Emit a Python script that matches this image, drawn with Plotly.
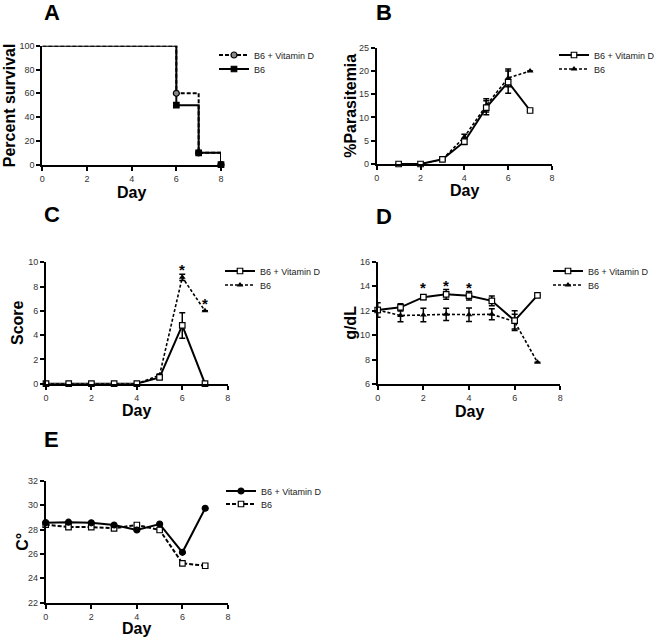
import plotly.graph_objects as go

W, H = 662, 642
def px(x): return x / W
def py(y): return 1 - y / H

# ---------------- data ----------------
A_days = [0, 6, 7, 8]
A_vd = [100, 60, 10, 0]
A_b6 = [100, 50, 10, 0]

B_days = [1, 2, 3, 4, 5, 6, 7]
B_vd = [0, 0, 1.0, 4.8, 12.1, 17.6, 11.5]
B_vd_err = [0, 0, 0.2, 0.6, 1.5, 2.4, 0]
B_b6 = [0, 0, 1.0, 5.8, 12.6, 18.5, 20.0]
B_b6_err = [0, 0, 0.2, 0.6, 1.4, 1.9, 0]

C_days = [0, 1, 2, 3, 4, 5, 6, 7]
C_vd = [0, 0, 0, 0, 0, 0.52, 4.8, 0]
C_vd_err = [0, 0, 0, 0, 0, 0.15, 1.05, 0]
C_b6 = [0, 0, 0, 0, 0, 0.7, 8.76, 6.0]
C_b6_err = [0, 0, 0, 0, 0, 0.1, 0.25, 0]
C_star_days = [6, 7]
C_star_y = [9.65, 6.85]

D_days = [0, 1, 2, 3, 4, 5, 6, 7]
D_vd = [12.05, 12.27, 13.1, 13.33, 13.22, 12.8, 11.18, 13.25]
D_vd_err = [0.2, 0.3, 0.2, 0.4, 0.35, 0.4, 0.8, 0]
D_b6 = [12.05, 11.6, 11.64, 11.7, 11.67, 11.7, 11.1, 7.77]
D_b6_err = [0.6, 0.5, 0.55, 0.5, 0.55, 0.45, 0.6, 0]
D_star_days = [2, 3, 4]
D_star_y = [14.1, 14.3, 14.15]

E_days = [0, 1, 2, 3, 4, 5, 6, 7]
E_vd = [28.56, 28.6, 28.55, 28.37, 27.96, 28.45, 26.13, 29.74]
E_b6 = [28.4, 28.2, 28.2, 28.1, 28.37, 27.96, 25.23, 25.03]

x_ticks = [0, 2, 4, 6, 8]
name_vd = "B6 + Vitamin D"
name_b6 = "B6"

FONT = "Liberation Sans, Arial, sans-serif"
DASH = "4px,2px"
DOT = "3px,2px"

fig = go.Figure()

# panel geometry in window pixels: (x0, x1, ytop, ybottom, yrange, dtick)
panels = {
    "A": (42.3, 221.0, 45.7, 164.7, [0, 100], 20),
    "B": (376.7, 552.0, 47.7, 164.0, [0, 25], 5),
    "C": (46.0, 227.7, 262.3, 383.7, [0, 10], 2),
    "D": (377.7, 560.3, 261.7, 384.0, [6, 16], 2),
    "E": (45.7, 228.0, 480.7, 602.7, [22, 32], 2),
}
axis_ids = {"A": "", "B": "2", "C": "3", "D": "4", "E": "5"}

layout = dict(
    width=W, height=H, margin=dict(l=0, r=0, t=0, b=0, autoexpand=False),
    paper_bgcolor="white", plot_bgcolor="white",
    font=dict(family=FONT, color="#222", size=9),
    showlegend=True,
)
for k, (x0, x1, yt, yb, yr, dt) in panels.items():
    i = axis_ids[k]
    common = dict(showgrid=False, zeroline=False, showline=True, linecolor="black",
                  linewidth=2, ticks="outside", ticklen=4, tickwidth=1.5,
                  tickcolor="black", tickfont=dict(size=9, color="#333", family=FONT),
                  fixedrange=True)
    layout["xaxis" + i] = dict(domain=[px(x0), px(x1)], range=[0, 8],
                               tickvals=x_ticks, anchor="y" + i, **common)
    layout["yaxis" + i] = dict(domain=[py(yb), py(yt)], range=yr, dtick=dt,
                               tick0=yr[0], anchor="x" + i, **common)

def add(xs, ys, name, axis, legend, symbol, mcolor, dash, err=None, msize=5.5,
        mline=1.2, shape="linear", mode="lines+markers", showlegend=True, lw=2):
    i = axis_ids[axis]
    tr = go.Scatter(
        x=xs, y=ys, name=name, mode=mode, showlegend=showlegend,
        xaxis="x" + i, yaxis="y" + i, legend=legend, cliponaxis=False,
        line=dict(color="black", width=lw, dash=dash, shape=shape),
        marker=dict(symbol=symbol, size=msize, color=mcolor,
                    line=dict(color="black", width=mline)),
    )
    if err is not None:
        tr.error_y = dict(type="data", array=err, visible=True, color="black",
                          thickness=1.5, width=3)
    fig.add_trace(tr)

# Panel A (step survival curves): lines, drop-point markers, legend entries
add(A_days, A_vd, name_vd, "A", "legend", "circle", "#888", DASH, shape="hv",
    mode="lines", showlegend=False)
add(A_days, A_b6, name_b6, "A", "legend2", "square", "black", "solid", shape="hv",
    mode="lines", showlegend=False)
add(A_days[1:], A_vd[1:], name_vd, "A", "legend", "circle", "#888", DASH,
    mode="markers", showlegend=False, msize=6)
add(A_days[1:], A_b6[1:], name_b6, "A", "legend2", "square", "black", "solid",
    mode="markers", showlegend=False, msize=5.5)
add([None], [None], name_vd, "A", "legend", "circle", "#888", DASH, msize=6)
add([None], [None], name_b6, "A", "legend2", "square", "black", "solid", msize=5.5)
# Panel B
add(B_days, B_b6, name_b6, "B", "legend4", "triangle-up", "black", DOT, err=B_b6_err, msize=6, mline=0, lw=1.6)
add(B_days, B_vd, name_vd, "B", "legend3", "square", "white", "solid", err=B_vd_err)
# Panel C
add(C_days, C_b6, name_b6, "C", "legend6", "triangle-up", "black", DOT, err=C_b6_err, msize=6, mline=0, lw=1.6)
add(C_days, C_vd, name_vd, "C", "legend5", "square", "white", "solid", err=C_vd_err)
# Panel D
add(D_days, D_b6, name_b6, "D", "legend8", "triangle-up", "black", DOT, err=D_b6_err, msize=6, mline=0, lw=1.6)
add(D_days, D_vd, name_vd, "D", "legend7", "square", "white", "solid", err=D_vd_err)
# Panel E
add(E_days, E_b6, name_b6, "E", "legend10", "square", "white", DASH)
add(E_days, E_vd, name_vd, "E", "legend9", "circle", "black", "solid", msize=6)

# legends, one per entry: (id, text-left-x, row-center-y) in window pixels
leg_pos = {
    "legend": (254, 55), "legend2": (254, 69),
    "legend3": (594, 55), "legend4": (594, 69),
    "legend5": (260, 271), "legend6": (260, 285),
    "legend7": (588, 271), "legend8": (588, 285),
    "legend9": (261, 491), "legend10": (261, 504),
}
for lid, (lx, ly) in leg_pos.items():
    layout[lid] = dict(x=px(lx - 40), y=py(ly), xanchor="left", yanchor="middle",
                       bgcolor="rgba(0,0,0,0)", borderwidth=0, itemwidth=30,
                       font=dict(size=9, color="#222", family=FONT),
                       itemclick=False, itemdoubleclick=False)

fig.update_layout(**layout)

ann = []
# panel letters
for k, (lx, ly) in {"A": (42, -2), "B": (374, -2), "C": (42, 200), "D": (374, 202), "E": (42, 425)}.items():
    ann.append(dict(text="<b>%s</b>" % k, x=px(lx), y=py(ly), xref="paper", yref="paper",
                    xanchor="left", yanchor="top", showarrow=False,
                    font=dict(size=22, color="black", family=FONT)))
# y titles
ytitles = {"A": ("Percent survival", 9), "B": ("%Parasitemia", 351), "C": ("Score", 17),
           "D": ("g/dL", 351), "E": ("C°", 23)}
for k, (t, cx) in ytitles.items():
    x0, x1, yt, yb, yr, dt = panels[k]
    ann.append(dict(text="<b>%s</b>" % t, x=px(cx), y=py((yt + yb) / 2), xref="paper", yref="paper",
                    xanchor="center", yanchor="middle", textangle=-90, showarrow=False,
                    font=dict(size=16, color="black", family=FONT)))
# x titles
for k, off in {"A": 28, "B": 27, "C": 27, "D": 27, "E": 26}.items():
    x0, x1, yt, yb, yr, dt = panels[k]
    ann.append(dict(text="<b>Day</b>", x=px((x0 + x1) / 2), y=py(yb + off), xref="paper", yref="paper",
                    xanchor="center", yanchor="middle", showarrow=False,
                    font=dict(size=16, color="black", family=FONT)))
# asterisks
for d, v in zip(C_star_days, C_star_y):
    ann.append(dict(text="<b>*</b>", x=d, y=v, xref="x3", yref="y3", showarrow=False,
                    yanchor="middle", yshift=-3, font=dict(size=15, color="black", family=FONT)))
for d, v in zip(D_star_days, D_star_y):
    ann.append(dict(text="<b>*</b>", x=d, y=v, xref="x4", yref="y4", showarrow=False,
                    yanchor="middle", yshift=-3, font=dict(size=15, color="black", family=FONT)))
fig.update_layout(annotations=ann)

# remove the page's default 8px body margin so the figure fills the window exactly
fig.write_html("out.html", config={"displayModeBar": False},
               post_script="document.body.style.margin='0';")
